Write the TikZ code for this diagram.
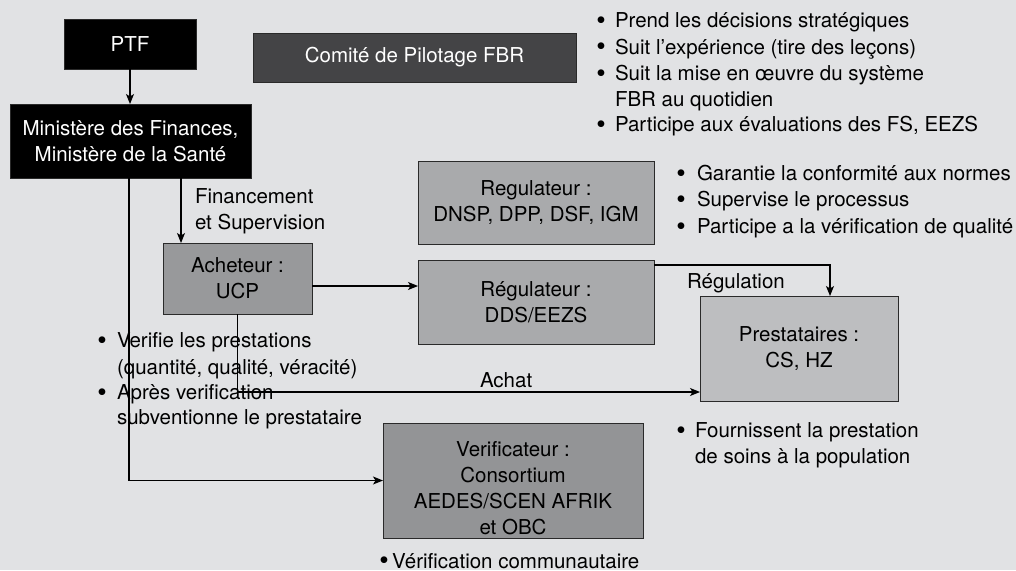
\documentclass[tikz,border=0pt]{standalone}
\usepackage{fontspec}
\setmainfont{TeX Gyre Heros}
\usetikzlibrary{arrows.meta}
\definecolor{bgc}{HTML}{E1E2E4}
\definecolor{boxline}{HTML}{2A2A2A}
\definecolor{comite}{HTML}{444446}
\definecolor{regul}{HTML}{A9AAAC}
\definecolor{achet}{HTML}{98999B}
\definecolor{prest}{HTML}{BDBEC0}
\definecolor{verif}{HTML}{939496}
\begin{document}
\begin{tikzpicture}[x=1pt,y=-1pt,
  every node/.style={font=\fontsize{20.5}{25.8}\selectfont, inner sep=0pt, outer sep=0pt},
  box/.style={draw=boxline, line width=0.9pt, align=center},
  conn/.style={line width=1.1pt, draw=black},
  arr/.style={conn, -{Stealth[length=10pt,width=8pt,inset=2.5pt]}},
  bul/.style={anchor=base, font=\fontsize{27}{27}\selectfont},
  txt/.style={anchor=base west},
]
\fill[bgc] (0,0) rectangle (1016,570);
\useasboundingbox (0,0) rectangle (1016,570);

% boxes
\node[box, fill=black, text=white, minimum width=132pt, minimum height=50pt] (ptf) at (130,44) {PTF};
\node[box, fill=black, text=white, minimum width=241pt, minimum height=74pt] (min) at (130.5,141) {Ministère des Finances,\\Ministère de la Santé};
\node[box, fill=comite, text=white, minimum width=323pt, minimum height=49pt] (com) at (414.5,57.5) {Comité de Pilotage FBR};
\node[box, fill=regul, minimum width=236pt, minimum height=83pt] (reg1) at (536,202.5) {Regulateur :\\DNSP, DPP, DSF, IGM};
\node[box, fill=regul, minimum width=236pt, minimum height=84pt] (reg2) at (536,302) {Régulateur :\\DDS/EEZS};
\node[box, fill=achet, minimum width=149pt, minimum height=71pt] (ach) at (237.5,278.5) {Acheteur :\\UCP};
\node[box, fill=prest, minimum width=198pt, minimum height=105pt] (pre) at (799,348.5) {Prestataires :\\CS, HZ};
\node[box, fill=verif, minimum width=260pt, minimum height=115pt] (ver) at (513,480.5) {};
\node[align=center] (vertxt) at (513,488) {Verificateur :\\Consortium\\AEDES/SCEN AFRIK\\et OBC};

% helper coordinates
\coordinate (fx) at (181,0);
\coordinate (lx) at (129,0);
\coordinate (ay) at (0,286);
\coordinate (achy) at (0,392);
\coordinate (ry) at (0,265);
\coordinate (rx) at (830,0);

% connectors
\draw[arr] (ptf.south) -- (ptf.south |- min.north);
\draw[arr] (min.south -| fx) -- (ach.north -| fx);
\draw[arr] (min.south -| lx) |- (ver.west);
\draw[arr] (ach.east |- ay) -- (reg2.west |- ay);
\draw[arr] (ach.south) |- (pre.west |- achy);
\draw[arr] (reg2.east |- ry) -| (pre.north -| rx);

% connector labels
\node[txt] (lfin1) at (195,203) {Financement};
\node[txt] (lfin2) at (195,229.5) {et Supervision};
\node[txt] (lach) at (480,387.4) {Achat};
\node[txt] (lreg) at (687,288.4) {Régulation};

% top right bullets
\node[bul] (ba1) at (601,29) {•};
\node[txt] (ta1) at (615,27.4) {Prend les décisions stratégiques};
\node[bul] (ba2) at (601,55.7) {•};
\node[txt] (ta2) at (615,54.1) {Suit l’expérience (tire des leçons)};
\node[bul] (ba3) at (601,82.3) {•};
\node[txt] (ta3) at (615,80.7) {Suit la mise en œuvre du système};
\node[txt] (ta4) at (615,106.4) {FBR au quotidien};
\node[bul] (ba5) at (601,133) {•};
\node[txt] (ta5) at (615,131.4) {Participe aux évaluations des FS, EEZS};

% regulator bullets
\node[bul] (bb1) at (681,182) {•};
\node[txt] (tb1) at (697,180.4) {Garantie la conformité aux normes};
\node[bul] (bb2) at (681,208.2) {•};
\node[txt] (tb2) at (697,206.6) {Supervise le processus};
\node[bul] (bb3) at (681,235) {•};
\node[txt] (tb3) at (697,233.4) {Participe a la vérification de qualité};

% buyer bullets
\node[bul] (bc1) at (102,349) {•};
\node[txt] (tc1) at (117,347.4) {Verifie les prestations};
\node[txt] (tc2) at (117,374.4) {(quantité, qualité, véracité)};
\node[bul] (bc3) at (102,401) {•};
\node[txt] (tc3) at (117,399.4) {Après verification};
\node[txt] (tc4) at (117,424.4) {subventionne le prestataire};

% provider bullets
\node[bul] (bd1) at (681,439) {•};
\node[txt] (td1) at (695,437.4) {Fournissent la prestation};
\node[txt] (td2) at (695,463.4) {de soins à la population};

% verifier bullet
\node[bul] (be1) at (384,569.5) {•};
\node[txt] (te1) at (392,568) {Vérification communautaire};
\end{tikzpicture}
\end{document}
